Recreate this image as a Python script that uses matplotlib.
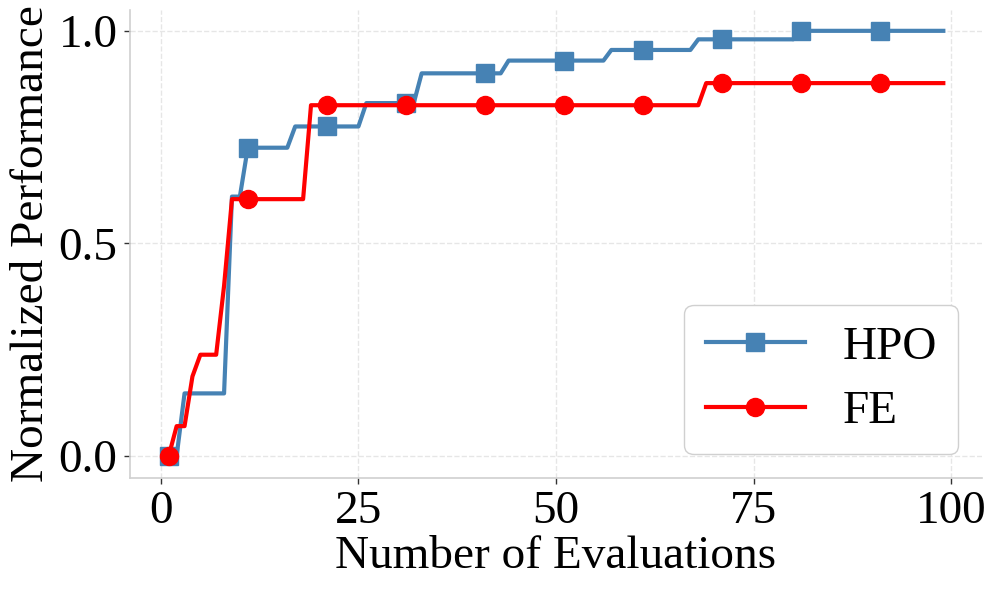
import numpy as np
import matplotlib
matplotlib.use("Agg")
import matplotlib.pyplot as plt

plt.rcParams['font.family'] = ['Liberation Serif', 'DejaVu Serif']

evaluations = list(range(1, 100))
hpo = ([0.0] * 2 + [0.147] * 6 + [0.61] * 2 + [0.725] * 6 + [0.775] * 9 +
       [0.83] * 7 + [0.90] * 11 + [0.93] * 13 + [0.955] * 11 + [0.98] * 13 +
       [1.0] * 19)
fe = ([0.0] * 1 + [0.07] * 2 + [0.187] * 1 + [0.238] * 3 + [0.40] * 1 +
      [0.604] * 10 + [0.825] * 50 + [0.877] * 31)
series_names = ["HPO", "FE"]
xticks = [0, 25, 50, 75, 100]
yticks = [0.0, 0.5, 1.0]

fig = plt.figure(figsize=(9.97, 5.92), dpi=100)
ax = fig.add_axes([0.1304, 0.1926, 0.8546, 0.7905])

ax.plot(evaluations, hpo, color='#4682B4', lw=3, marker='s', markersize=13.5,
        markevery=10, label=series_names[0], zorder=3)
ax.plot(evaluations, fe, color='#FF0000', lw=3, marker='o', markersize=13,
        markevery=10, label=series_names[1], zorder=4)

ax.set_xticks(xticks)
ax.set_yticks(yticks)
ax.set_yticklabels([f"{v:.1f}" for v in yticks])
ax.set_xlim(-3.9, 103.9)
ax.set_ylim(-0.052, 1.049)

ax.grid(True, linestyle='--', color='#e6e6e6', linewidth=1)
ax.set_axisbelow(True)
for s in ['top', 'right']:
    ax.spines[s].set_visible(False)
for s in ['left', 'bottom']:
    ax.spines[s].set_color('#d0d0d0')
    ax.spines[s].set_linewidth(1.2)

ax.tick_params(axis='both', labelsize=34, direction='out', length=4,
               width=1, color='#333333', pad=5)
ax.set_xlabel("Number of Evaluations", fontsize=34, labelpad=2)
ax.set_ylabel("Normalized Performance", fontsize=34, labelpad=4)

leg = ax.legend(loc='lower right', fontsize=34, frameon=True, fancybox=True,
                edgecolor='#d0d0d0', framealpha=1.0, borderpad=0.45,
                handlelength=2.1, labelspacing=0.45, handletextpad=0.8)

fig.savefig("out.png", dpi=100)
